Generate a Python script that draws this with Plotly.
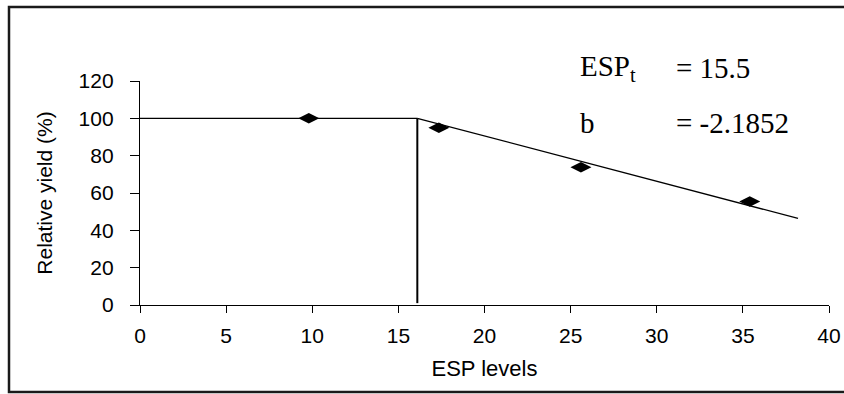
import plotly.graph_objects as go

# Observed data points (ESP level, relative yield %)
esp_levels = [9.8, 17.35, 25.6, 35.4]
relative_yield = [100, 95, 73.8, 55.5]

# Fitted segmented line (plateau, threshold marker, decline)
plateau_x = [0, 16.1]
plateau_y = [100, 100]
threshold_x = [16.1, 16.1]
threshold_y = [1, 100]
decline_x = [16.1, 38.2]
decline_y = [100, 46.4]

x_ticks = [0, 5, 10, 15, 20, 25, 30, 35, 40]
y_ticks = [0, 20, 40, 60, 80, 100, 120]

W, H = 844, 394
L, R, T, B = 140, 15, 81, 89

fig = go.Figure()
line_style = dict(color="black", width=1.3)
fig.add_trace(go.Scatter(x=plateau_x, y=plateau_y, mode="lines", line=line_style, showlegend=False))
fig.add_trace(go.Scatter(x=threshold_x, y=threshold_y, mode="lines", line=dict(color="black", width=2), showlegend=False))
fig.add_trace(go.Scatter(x=decline_x, y=decline_y, mode="lines", line=line_style, showlegend=False))
fig.add_trace(go.Scatter(x=esp_levels, y=relative_yield, mode="markers",
                         marker=dict(symbol="diamond-wide", size=15, color="black"),
                         showlegend=False, cliponaxis=False))

tick_font = dict(family="Liberation Sans, Arial", size=21, color="black")
title_font = dict(family="Liberation Sans, Arial", size=22, color="black")
fig.update_xaxes(range=[0, 40], tickvals=x_ticks, showgrid=False, zeroline=False,
                 showline=True, linecolor="black", linewidth=1.3,
                 ticks="outside", ticklen=7, tickwidth=1.3, tickcolor="black",
                 tickfont=tick_font, ticklabelstandoff=5,
                 title=dict(text="ESP levels", font=title_font, standoff=14))
fig.update_yaxes(range=[0, 120], tickvals=y_ticks, showgrid=False, zeroline=False,
                 showline=True, linecolor="black", linewidth=1.3,
                 ticks="outside", ticklen=9, tickwidth=1.3, tickcolor="black",
                 tickfont=tick_font, ticklabelstandoff=12,
                 title=dict(text="Relative yield (%)", font=dict(family="Liberation Sans, Arial", size=21, color="black"), standoff=20))

def px_x(p):
    return (p - L) / (W - L - R)

def px_y(p):
    return (H - B - p) / (H - T - B)

times = dict(family="Liberation Serif, Times New Roman", size=29, color="black")
annots = [
    ("ESP<sub>t</sub>", 578, 68),
    ("= 15.5", 674, 68),
    ("b", 578, 123),
    ("= -2.1852", 674, 123),
]
for txt, xp, yp in annots:
    fig.add_annotation(text=txt, xref="paper", yref="paper", x=px_x(xp), y=px_y(yp),
                       xanchor="left", yanchor="middle", showarrow=False, font=times)

fig.add_shape(type="rect", xref="paper", yref="paper",
              x0=px_x(9), x1=px_x(852), y0=px_y(392), y1=px_y(7),
              line=dict(color="#1a1a1a", width=2.5))

fig.update_layout(width=W, height=H, margin=dict(l=L, r=R, t=T, b=B, autoexpand=False),
                  plot_bgcolor="white", paper_bgcolor="white")

fig.write_html("out.html")
